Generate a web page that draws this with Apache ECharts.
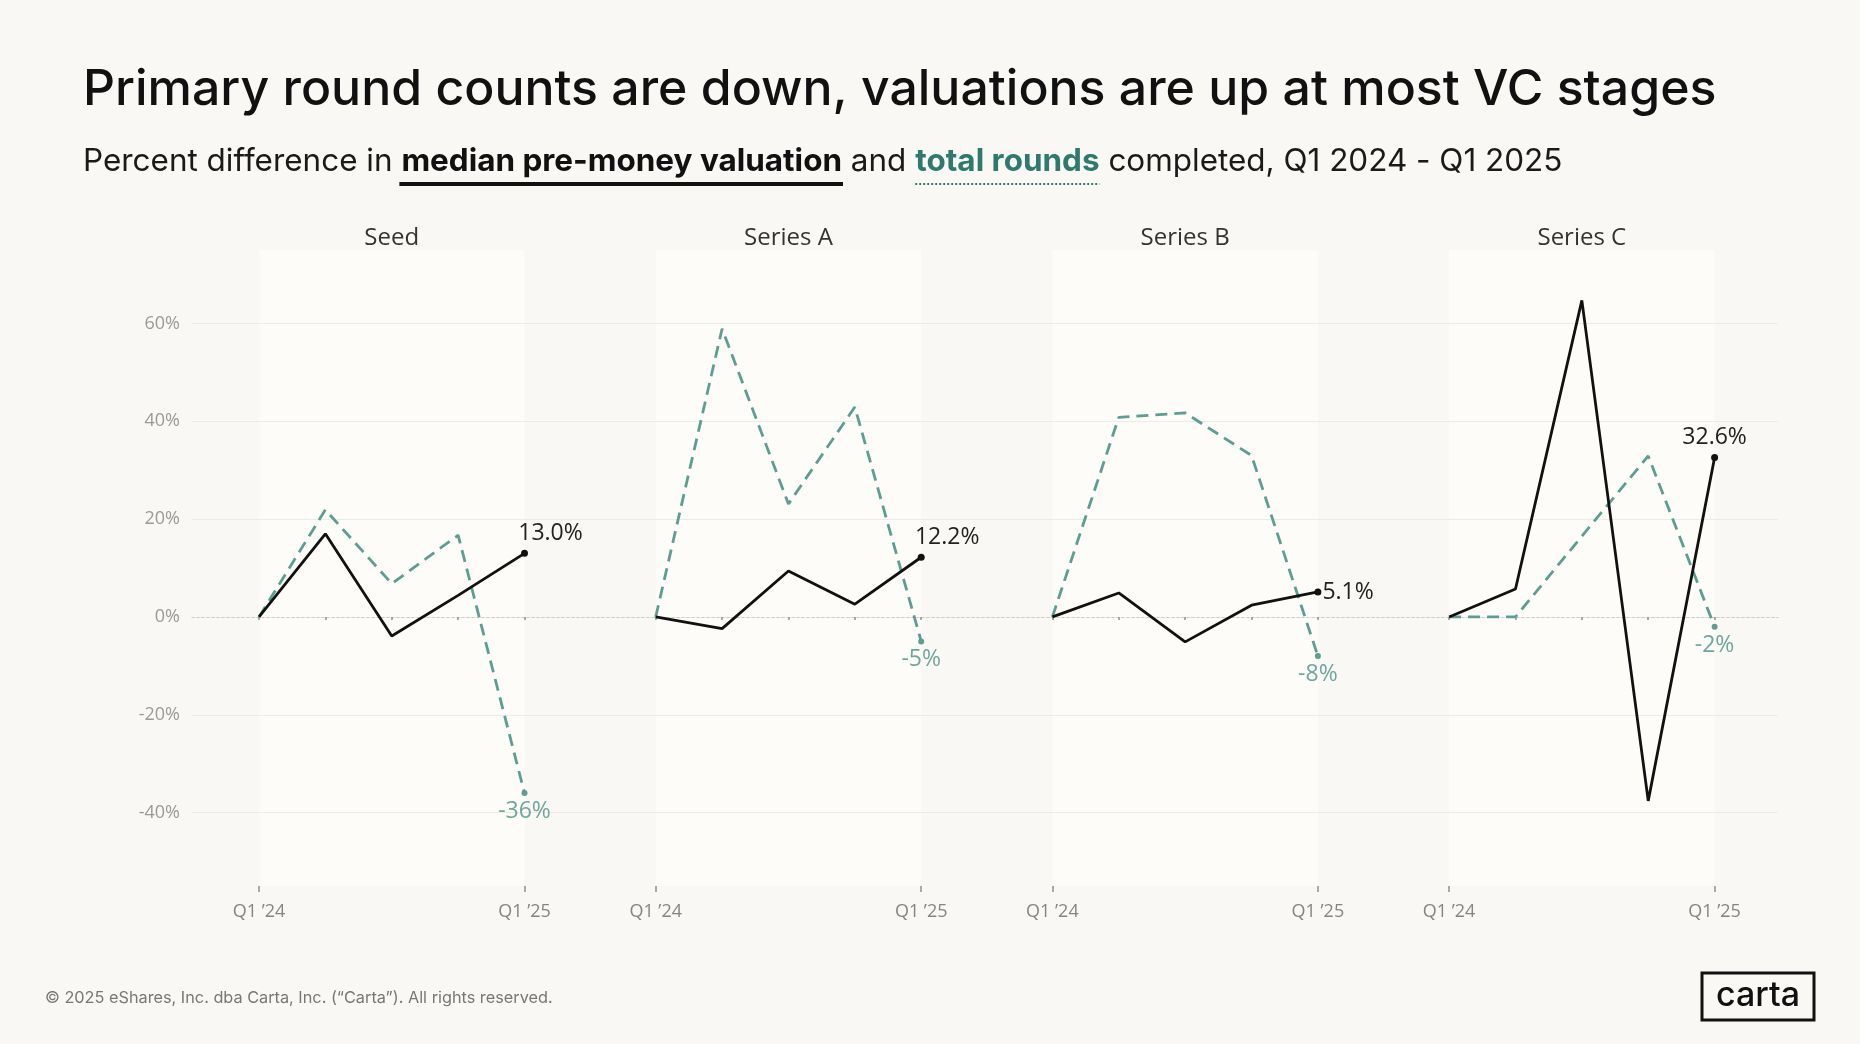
<!DOCTYPE html>
<html>
<head>
<meta charset="utf-8">
<script src="https://cdn.jsdelivr.net/npm/echarts@6/dist/echarts.min.js"></script>
<style>
html,body{margin:0;padding:0;background:#f9f8f4;}
#c{width:1860px;height:1044px;}
</style>
</head>
<body>
<div id="c"></div>
<script>
// ---------- DATA ----------
const quarters = ["Q1 \u201924", "Q2 \u201924", "Q3 \u201924", "Q4 \u201924", "Q1 \u201925"];
const stages = ["Seed", "Series A", "Series B", "Series C"];
// percent difference in median pre-money valuation (vs Q1 '24)
const valuationSeed    = [0, 17.0, -3.9, 4.4, 13.0];
const valuationSeriesA = [0, -2.4, 9.4, 2.6, 12.2];
const valuationSeriesB = [0, 4.9, -5.1, 2.4, 5.1];
const valuationSeriesC = [0, 5.7, 64.7, -37.6, 32.6];
// percent difference in total rounds completed (vs Q1 '24)
const roundsSeed    = [0, 21.9, 6.8, 16.7, -36];
const roundsSeriesA = [0, 58.9, 23.1, 42.9, -5];
const roundsSeriesB = [0, 40.8, 41.7, 33.0, -8];
const roundsSeriesC = [0, 0, 16.5, 32.9, -2];
const yTickStep = 20;

const valuationByStage = [valuationSeed, valuationSeriesA, valuationSeriesB, valuationSeriesC];
const roundsByStage = [roundsSeed, roundsSeriesA, roundsSeriesB, roundsSeriesC];

// ---------- LAYOUT / STYLE ----------
const W = 1860, H = 1044;
const BG = '#f9f8f4', PANEL_BG = '#fdfcf9';
const BLACK = '#111111', TEAL = '#5e9d92', TEAL_LABEL = '#6ea79d', TEAL_TEXT = '#2f7a6c';
const HEAD_FONT = 'Inter, "Noto Sans", sans-serif';
const CHART_FONT = '"Open Sans", "Noto Sans", sans-serif';
const PANEL_LEFT0 = 259, PANEL_STEP = 396.7, PANEL_W = 265.5;
const PANEL_TOP = 250, PANEL_BOTTOM = 886;
const Y_MIN = -55, Y_MAX = 75;
const pxPerUnit = (PANEL_BOTTOM - PANEL_TOP) / (Y_MAX - Y_MIN);
const OUTER_MIN = -60, OUTER_MAX = 80;
const blackLabelPlace = [
  {position: 'top', distance: 5, offset: [26, 0]},
  {position: 'top', distance: 5, offset: [26, 0]},
  {position: 'right', distance: 1, offset: [0, 0]},
  {position: 'top', distance: 5, offset: [0, 0]}
];

// text measuring for heading layout
const mctx = document.createElement('canvas').getContext('2d');
function textW(str, weight, size, family) {
  mctx.font = weight + ' ' + size + 'px ' + family;
  return mctx.measureText(str).width;
}
function fitSize(parts, target, base) {
  let w = 0;
  parts.forEach(p => { w += textW(p.t, p.w, base, p.f); });
  return base * target / w;
}

// ---------- GRIDS / AXES ----------
const grids = [{
  left: 192, right: 82,
  top: PANEL_TOP - (OUTER_MAX - Y_MAX) * pxPerUnit,
  bottom: H - (PANEL_BOTTOM + (Y_MIN - OUTER_MIN) * pxPerUnit),
  show: false, containLabel: false, outerBoundsMode: 'none'
}];
const xAxes = [{
  gridIndex: 0, type: 'value', min: 0, max: 1, show: true,
  axisLine: {show: true, onZero: true, lineStyle: {color: '#cbcbc7', width: 1.2, type: [2, 3]}},
  axisTick: {show: false}, axisLabel: {show: false}, splitLine: {show: false}
}];
const yAxes = [{
  gridIndex: 0, type: 'value', min: OUTER_MIN, max: OUTER_MAX, interval: yTickStep,
  axisLine: {show: false}, axisTick: {show: false},
  axisLabel: {
    show: true, showMinLabel: false, showMaxLabel: false,
    formatter: v => (v < Y_MIN || v > Y_MAX) ? '' : v + '%',
    color: '#9a9a98', fontSize: 18, fontFamily: CHART_FONT, margin: 12
  },
  splitLine: {show: true, showMinLine: false, showMaxLine: false,
    lineStyle: {color: '#ebebe7', width: 1.2}}
}];
const series = [];
const graphics = [];
const isEnd = idx => idx === 0 || idx === quarters.length - 1;

stages.forEach((stage, i) => {
  const gi = i + 1;
  const left = PANEL_LEFT0 + i * PANEL_STEP;
  grids.push({
    left: left, width: PANEL_W, top: PANEL_TOP, bottom: H - PANEL_BOTTOM,
    show: true, backgroundColor: PANEL_BG, borderWidth: 0,
    containLabel: false, outerBoundsMode: 'none'
  });
  const minorIdx = xAxes.length;
  xAxes.push({
    gridIndex: gi, type: 'category', data: quarters, boundaryGap: false,
    axisLine: {show: false},
    axisTick: {show: true, interval: 0, length: 3, lineStyle: {color: '#8e8e8c', width: 1.5}},
    axisLabel: {show: false}, splitLine: {show: false}
  });
  xAxes.push({
    gridIndex: gi, type: 'category', data: quarters, boundaryGap: false, position: 'bottom',
    axisLine: {show: false},
    axisTick: {show: true, interval: isEnd, length: 6, lineStyle: {color: '#8e8e8c', width: 1.5}},
    axisLabel: {show: true, interval: isEnd, color: '#858583', fontSize: 18,
      fontFamily: CHART_FONT, margin: 17},
    splitLine: {show: false}
  });
  yAxes.push({gridIndex: gi, type: 'value', min: Y_MIN, max: Y_MAX, show: false,
    splitLine: {show: false}});

  const rounds = roundsByStage[i];
  const vals = valuationByStage[i];
  const last = quarters.length - 1;

  series.push({
    name: stage + ' total rounds', type: 'line',
    xAxisIndex: minorIdx, yAxisIndex: gi,
    lineStyle: {color: TEAL, width: 2.8, type: [12, 7]},
    itemStyle: {color: TEAL},
    showSymbol: true, z: 3,
    data: rounds.map((v, k) => k === last ? {
      value: v, symbol: 'circle', symbolSize: 6,
      label: {show: true, position: 'bottom', distance: 4,
        formatter: p => Math.round(p.value) + '%',
        color: TEAL_LABEL, fontSize: 23, fontFamily: CHART_FONT}
    } : {value: v, symbol: 'none'})
  });
  series.push({
    name: stage + ' median pre-money valuation', type: 'line',
    xAxisIndex: minorIdx, yAxisIndex: gi,
    lineStyle: {color: BLACK, width: 2.8},
    itemStyle: {color: BLACK},
    showSymbol: true, z: 4,
    data: vals.map((v, k) => k === last ? {
      value: v, symbol: 'circle', symbolSize: 7,
      label: Object.assign({show: true,
        formatter: p => p.value.toFixed(1) + '%',
        color: '#222', fontSize: 23, fontFamily: CHART_FONT}, blackLabelPlace[i])
    } : {value: v, symbol: 'none'})
  });

  graphics.push({
    type: 'text', silent: true,
    style: {text: stage, x: left + PANEL_W / 2, y: 238, textAlign: 'center',
      textVerticalAlign: 'middle', fill: '#333', fontSize: 24, fontFamily: CHART_FONT}
  });
});

// ---------- HEADINGS ----------
const titleText = 'Primary round counts are down, valuations are up at most VC stages';
const titleSize = fitSize([{t: titleText, w: 500, f: HEAD_FONT}], 1634, 46);
graphics.push({
  type: 'text', silent: true,
  style: {text: titleText, x: 83, y: 90, textAlign: 'left', textVerticalAlign: 'middle',
    fill: '#111', fontSize: titleSize, fontWeight: 500, fontFamily: HEAD_FONT}
});

const subParts = [
  {t: 'Percent difference in ', w: 400, f: HEAD_FONT, c: '#1a1a1a'},
  {t: 'median pre-money valuation', w: 700, f: HEAD_FONT, c: '#111', u: 'solid'},
  {t: ' and ', w: 400, f: HEAD_FONT, c: '#1a1a1a'},
  {t: 'total rounds', w: 700, f: HEAD_FONT, c: TEAL_TEXT, u: 'dotted'},
  {t: ' completed, Q1 2024 - Q1 2025', w: 400, f: HEAD_FONT, c: '#1a1a1a'}
];
const subSize = fitSize(subParts, 1480, 29);
let sx = 83;
subParts.forEach(p => {
  const w = textW(p.t, p.w, subSize, p.f);
  graphics.push({
    type: 'text', silent: true,
    style: {text: p.t, x: sx, y: 162, textAlign: 'left', textVerticalAlign: 'middle',
      fill: p.c, fontSize: subSize, fontWeight: p.w, fontFamily: p.f}
  });
  if (p.u === 'solid') {
    graphics.push({type: 'line', silent: true,
      shape: {x1: sx - 2, y1: 184, x2: sx + w + 1, y2: 184},
      style: {stroke: '#111', lineWidth: 4}});
  } else if (p.u === 'dotted') {
    graphics.push({type: 'line', silent: true,
      shape: {x1: sx, y1: 184, x2: sx + w, y2: 184},
      style: {stroke: TEAL_TEXT, lineWidth: 2, lineDash: [2, 2]}});
  }
  sx += w;
});

// footer
const footText = '\u00A9 2025 eShares, Inc. dba Carta, Inc. (\u201CCarta\u201D). All rights reserved.';
const footSize = fitSize([{t: footText, w: 400, f: HEAD_FONT}], 508, 15);
graphics.push({
  type: 'text', silent: true,
  style: {text: footText, x: 45, y: 998, textAlign: 'left', textVerticalAlign: 'middle',
    fill: '#777', fontSize: footSize, fontFamily: HEAD_FONT}
});
// logo box
graphics.push({
  type: 'rect', silent: true,
  shape: {x: 1702, y: 973, width: 112, height: 47},
  style: {fill: 'none', stroke: '#111', lineWidth: 3}
});
graphics.push({
  type: 'text', silent: true,
  style: {text: 'carta', x: 1758, y: 996, textAlign: 'center', textVerticalAlign: 'middle',
    fill: '#111', fontSize: 34, fontWeight: 500, fontFamily: HEAD_FONT}
});

const chart = echarts.init(document.getElementById('c'), null, {renderer: 'canvas', width: W, height: H});
chart.setOption({
  backgroundColor: BG,
  animation: false,
  textStyle: {fontFamily: CHART_FONT},
  grid: grids,
  xAxis: xAxes,
  yAxis: yAxes,
  series: series,
  graphic: {elements: graphics}
});
</script>
</body>
</html>
